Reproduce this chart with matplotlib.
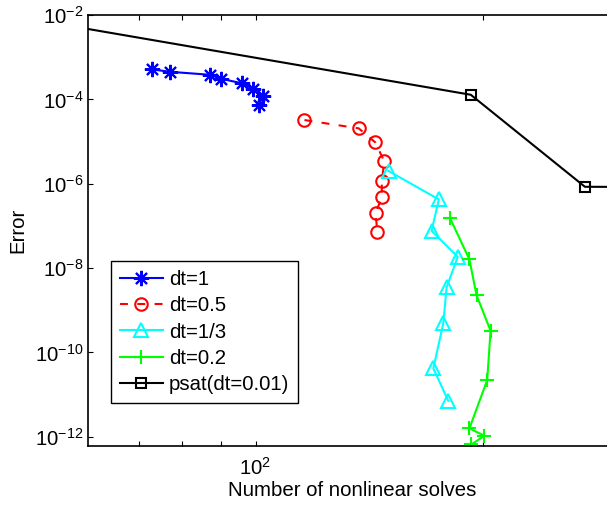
import matplotlib
matplotlib.use("Agg")
import matplotlib.pyplot as plt
from matplotlib.ticker import FixedLocator, NullFormatter, LogFormatterSciNotation

plt.rcParams['font.family'] = ['Liberation Sans', 'DejaVu Sans']
plt.rcParams['mathtext.fontset'] = 'custom'
plt.rcParams['mathtext.rm'] = 'Liberation Sans'
plt.rcParams['mathtext.it'] = 'Liberation Sans:italic'
plt.rcParams['mathtext.bf'] = 'Liberation Sans:bold'

# Data
dt1_x = [73.0, 77.0, 87.0, 90.0, 96.1, 99.2, 102.3, 101.0]
dt1_y = [5.15e-4, 4.52e-4, 3.84e-4, 3.09e-4, 2.40e-4, 1.76e-4, 1.18e-4, 7.34e-5]

dt05_x = [116.1, 137.0, 144.1, 148.1, 147.0, 147.0, 144.2, 145.0]
dt05_y = [3.24e-5, 2.06e-5, 9.57e-6, 3.39e-6, 1.16e-6, 4.83e-7, 1.99e-7, 7.26e-8]

dt13_x = [150.1, 174.9, 171.1, 185.3, 179.1, 177.3, 172.0, 180.0]
dt13_y = [2.0e-6, 4.26e-7, 7.67e-8, 1.85e-8, 3.49e-9, 4.89e-10, 4.19e-11, 7.14e-12]

dt02_x = [180.9, 192.0, 196.2, 204.8, 202.7, 192.0, 201.0, 193.2]
dt02_y = [1.56e-7, 1.61e-8, 2.29e-9, 3.27e-10, 2.21e-11, 1.58e-12, 1.06e-12, 6.6e-13]

psat_x = [50.0, 192.8, 273.1, 400.0]
psat_y = [8.2e-3, 1.29e-4, 8.48e-7, 8.3e-7]

labels = ['dt=1', 'dt=0.5', 'dt=1/3', 'dt=0.2', 'psat(dt=0.01)']

fs = 14.7

fig = plt.figure(figsize=(6.07, 5.09), dpi=100)
ax = fig.add_axes([0.145, 0.1244, 0.8694, 0.846])

lw = 1.5
ax.plot(dt1_x, dt1_y, color='#0000ff', lw=lw, marker=(8, 2, 0), markersize=11,
        markeredgewidth=1.5, label=labels[0])
ax.plot(dt05_x, dt05_y, color='#ff0000', lw=lw, ls='--', dashes=(3.8, 4.5), marker='o',
        markersize=9, markerfacecolor='none', markeredgewidth=1.5, label=labels[1])
ax.plot(dt13_x, dt13_y, color='#00ffff', lw=lw, marker='^', markersize=10,
        markerfacecolor='none', markeredgewidth=1.5, label=labels[2])
ax.plot(dt02_x, dt02_y, color='#00ff00', lw=lw, marker='+', markersize=10,
        markeredgewidth=1.5, label=labels[3])
ax.plot(psat_x, psat_y, color='black', lw=lw, marker='s', markersize=7,
        markerfacecolor='none', markeredgewidth=1.5, label=labels[4])

ax.set_xscale('log')
ax.set_yscale('log')
ax.set_xlim(60, 300)
ax.set_ylim(10 ** -12.21, 1e-2)

ax.xaxis.set_major_locator(FixedLocator([100]))
ax.xaxis.set_minor_locator(FixedLocator([70, 80, 90, 200]))
ax.xaxis.set_major_formatter(LogFormatterSciNotation())
ax.xaxis.set_minor_formatter(NullFormatter())
ax.yaxis.set_major_locator(FixedLocator([1e-2, 1e-4, 1e-6, 1e-8, 1e-10, 1e-12]))
ax.yaxis.set_minor_locator(FixedLocator([]))
ax.yaxis.set_major_formatter(LogFormatterSciNotation())

ax.tick_params(which='both', direction='in', top=True, right=False, labelsize=fs,
               length=3.5, width=0.8)
ax.tick_params(axis='x', which='both', pad=8)
ax.tick_params(axis='y', which='both', pad=3)
for s in ax.spines.values():
    s.set_linewidth(1.2)

ax.set_xlabel('Number of nonlinear solves', fontsize=fs, labelpad=2)
ax.set_ylabel('Error', fontsize=fs, labelpad=6)

leg = ax.legend(loc='lower left', bbox_to_anchor=(0.043, 0.098), fontsize=fs,
                frameon=True, fancybox=False, edgecolor='black', framealpha=1,
                borderpad=0.45, labelspacing=0.36, handlelength=2.1, handletextpad=0.3,
                borderaxespad=0)
leg.get_frame().set_linewidth(1.0)

fig.savefig('out.png', dpi=100)
